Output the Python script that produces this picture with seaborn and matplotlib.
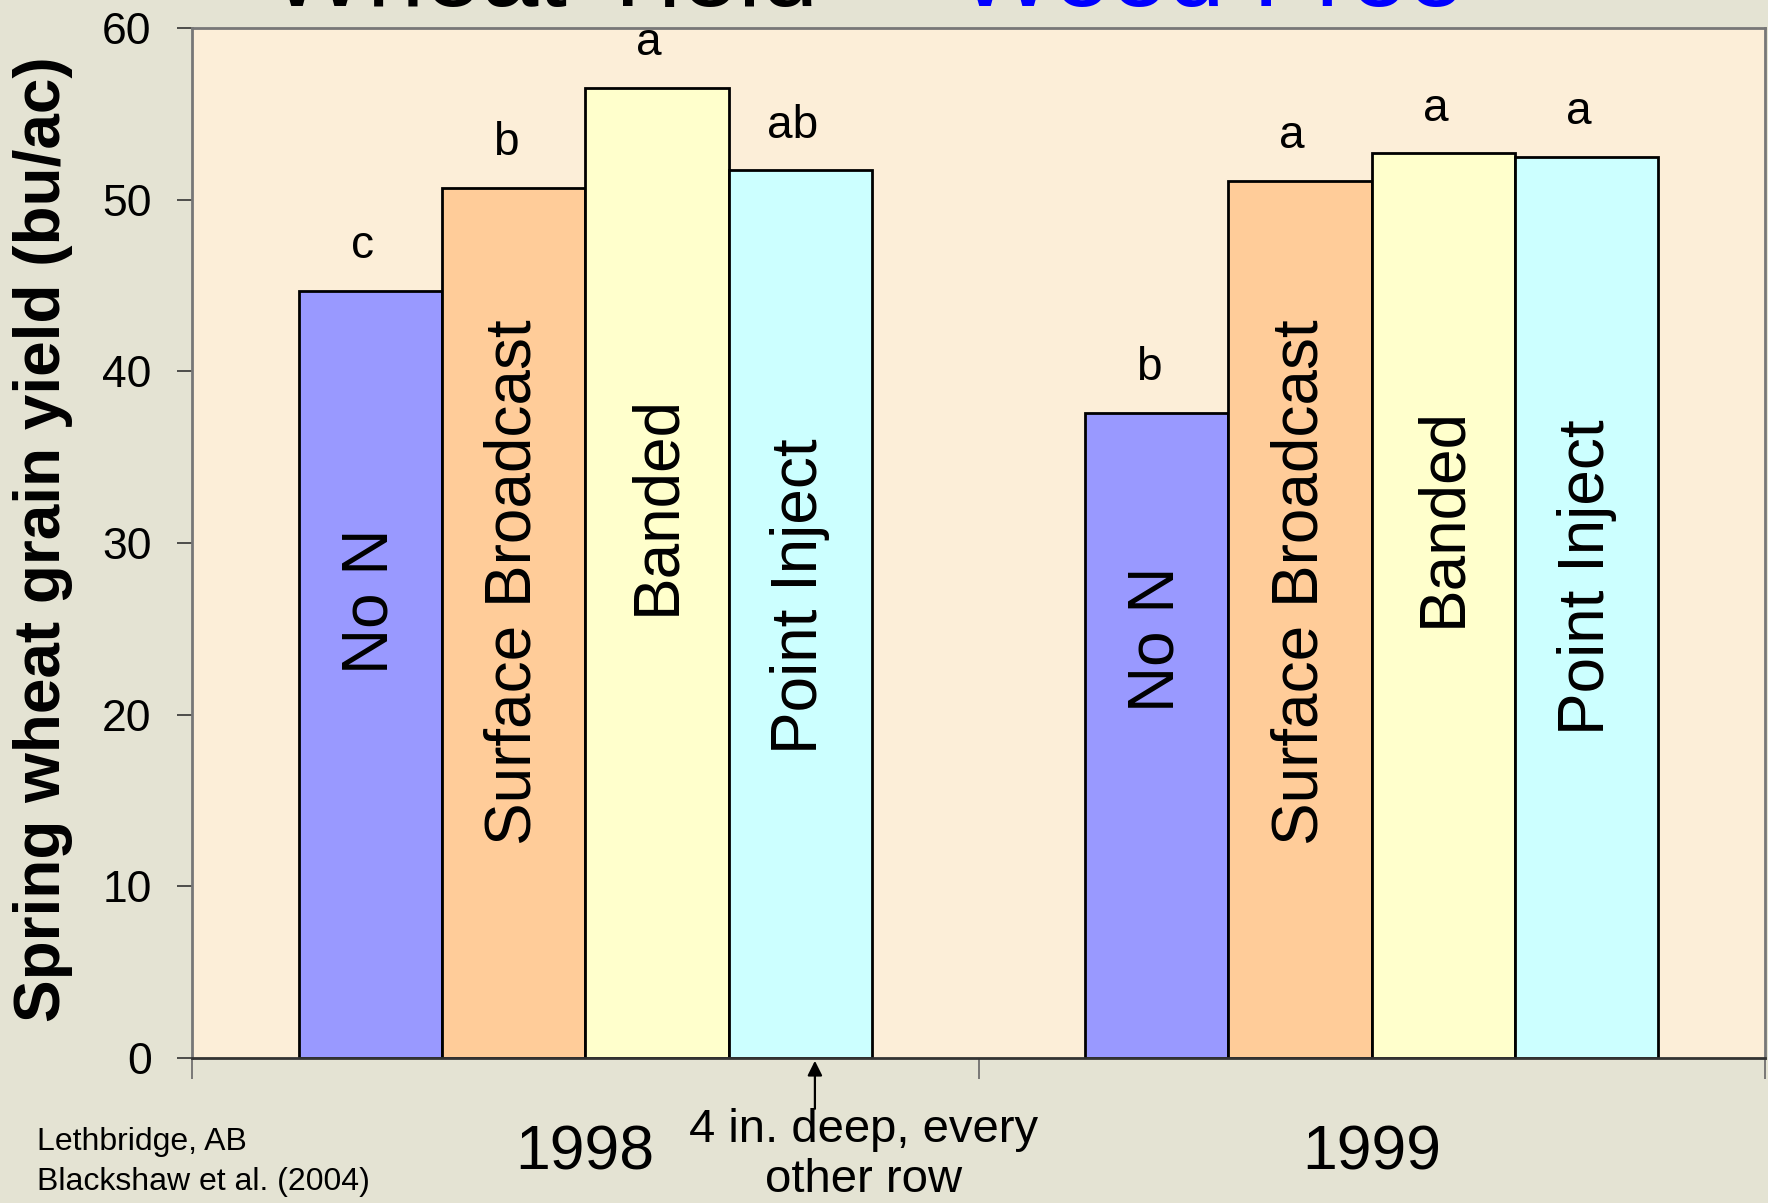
import matplotlib
matplotlib.use("Agg")
import matplotlib.pyplot as plt
import seaborn as sns
import pandas as pd

# Spring wheat grain yield by nitrogen placement, weed-free plots
years = ["1998", "1999"]
treatments = ["No N", "Surface Broadcast", "Banded", "Point Inject"]
yield_1998 = [44.7, 50.7, 56.5, 51.7]
yield_1999 = [37.6, 51.1, 52.7, 52.5]
letters_1998 = ["c", "b", "a", "ab"]
letters_1999 = ["b", "a", "a", "a"]
y_ticks = [0, 10, 20, 30, 40, 50, 60]

# vertical position (in bu/ac) of the treatment name written inside each bar
inner_label_y_1998 = [26.6, 27.7, 32.2, 26.9]
inner_label_y_1999 = [24.4, 27.7, 31.5, 28.0]

bar_colors = ["#9999FF", "#FFCC99", "#FFFFCC", "#CCFFFF"]

df = pd.DataFrame({
    "year": [years[0]] * 4 + [years[1]] * 4,
    "treatment": treatments * 2,
    "yield": yield_1998 + yield_1999,
})
letters = [letters_1998, letters_1999]
inner_y = [inner_label_y_1998, inner_label_y_1999]

sns.set_theme(style="white")
plt.rcParams["font.family"] = ["Liberation Sans", "DejaVu Sans"]
plt.rcParams["text.color"] = "black"

W, H = 1768, 1203
fig = plt.figure(figsize=(W / 100, H / 100), dpi=100)
fig.patch.set_facecolor("#E4E3D3")

ax = fig.add_axes([192 / W, 1 - 1058 / H, (1765 - 192) / W, (1058 - 28) / H])
ax.set_facecolor("#FCEED8")

sns.barplot(data=df, x="year", y="yield", hue="treatment", order=years,
            hue_order=treatments, palette=bar_colors, width=0.729,
            edgecolor="black", linewidth=2, saturation=1, legend=False,
            errorbar=None, ax=ax)

ax.set_xlim(-0.5, 1.5)
ax.set_ylim(0, 60)
ax.set_yticks(y_ticks)
ax.set_yticklabels([str(t) for t in y_ticks], fontsize=32, color="black")
ax.set_xticks([-0.5, 0.5, 1.5])
ax.set_xticklabels(["", "", ""])
ax.tick_params(axis="y", direction="out", length=11, width=1.2,
               color="#333333", pad=18, left=True, labelcolor="black")
ax.tick_params(axis="x", direction="out", length=15, width=1.2,
               color="#666666", bottom=True)
ax.set_xlabel("")
ax.set_ylabel("")
for side, sp in ax.spines.items():
    sp.set_visible(True)
    sp.set_color("#777777")
    sp.set_linewidth(2)
ax.spines["bottom"].set_color("#333333")

# letters of significance above each bar, names inside
for ti, container in enumerate(ax.containers):
    for yi, bar in enumerate(container):
        cx = bar.get_x() + bar.get_width() / 2
        top = bar.get_height()
        ax.text(cx - 0.01, top + 1.9, letters[yi][ti], ha="center", va="baseline",
                fontsize=33, color="black", clip_on=False)
        ax.text(cx, inner_y[yi][ti], treatments[ti], ha="center", va="center",
                rotation=90, fontsize=46, color="black")

# year labels under each group
for i, yr in enumerate(years):
    ax.text(i, -0.092, yr, transform=ax.get_xaxis_transform(), ha="center",
            va="center", fontsize=45, color="black")

# note for point-injected treatment
ax.annotate("", xy=(0.292, 0), xycoords=("data", "data"),
            xytext=(0.292, -0.052), textcoords=("data", "axes fraction"),
            arrowprops=dict(arrowstyle="-|>", color="black", lw=1.6,
                            mutation_scale=22))
fig.text(864 / W, 1 - 1155 / H, "4 in. deep, every\nother row", ha="center",
         va="center", fontsize=34, linespacing=1.15, color="black")

# axis title
fig.text(43 / W, 1 - 539 / H, "Spring wheat grain yield (bu/ac)", rotation=90,
         ha="center", va="center", fontsize=46, fontweight="bold", color="black")

# slide title, largely above the frame
fig.text(270 / W, 1 - 6 / H, "Wheat Yield \u2013", ha="left", va="baseline",
         fontsize=74, color="black")
fig.text(958 / W, 1 - 6 / H, "Weed Free", ha="left", va="baseline",
         fontsize=74, color="#0000FF")

# source
fig.text(37 / W, 1 - 1142 / H, "Lethbridge, AB", ha="left", va="center",
         fontsize=23, color="black")
fig.text(37 / W, 1 - 1182 / H, "Blackshaw et al. (2004)", ha="left", va="center",
         fontsize=23, color="black")

fig.savefig("out.png", dpi=100, facecolor=fig.get_facecolor())
